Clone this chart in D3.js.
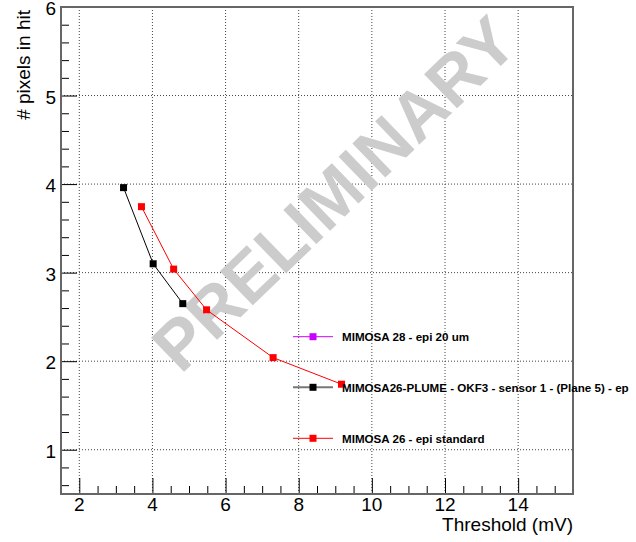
<!DOCTYPE html>
<html>
<head>
<meta charset="utf-8">
<script src="https://cdn.jsdelivr.net/npm/d3@7"></script>
<style>
  body { margin: 0; background: #fff; }
  svg { display: block; font-family: "Liberation Sans", Arial, Helvetica, sans-serif; }
</style>
</head>
<body>
<div id="chart"></div>
<script>
var width = 636,
    height = 542;

// data
var plumeThreshold = [3.21, 4.02, 4.83];
var plumePixels = [3.96, 3.10, 2.65];
var m26Threshold = [3.70, 4.58, 5.48, 7.30, 9.17];
var m26Pixels = [3.745, 3.04, 2.58, 2.04, 1.74];
var m28Threshold = [];
var m28Pixels = [];

var legendLabels = ["MIMOSA 28 - epi 20 um",
                    "MIMOSA26-PLUME - OKF3 - sensor 1 - (Plane 5) - ep",
                    "MIMOSA 26 - epi standard"];
var legendColors = ["#cc00ff", "#000000", "#ff0000"];
var legendLineColors = ["#cc00ff", "#777777", "#ff0000"];

var xMajor = [2, 4, 6, 8, 10, 12, 14];
var yMajor = [1, 2, 3, 4, 5, 6];

var frame = { left: 61, right: 573, top: 7, bottom: 494 };

var svg = d3.select("#chart").append("svg")
  .attr("width", width)
  .attr("height", height);

var x = d3.scaleLinear().domain([1.5, 15.5]).range([frame.left, frame.right]);
var y = d3.scaleLinear().domain([0.5, 6]).range([frame.bottom, frame.top]);

// grid
var grid = svg.append("g").attr("class", "grid");
grid.selectAll("line.gx")
  .data(xMajor)
  .enter().append("line")
  .attr("class", "gx")
  .attr("x1", function(d) { return x(d); })
  .attr("x2", function(d) { return x(d); })
  .attr("y1", frame.top)
  .attr("y2", frame.bottom)
  .attr("stroke", "#444")
  .attr("stroke-width", 1)
  .attr("stroke-dasharray", "1,2");
grid.selectAll("line.gy")
  .data(yMajor)
  .enter().append("line")
  .attr("class", "gy")
  .attr("x1", frame.left)
  .attr("x2", frame.right)
  .attr("y1", function(d) { return y(d); })
  .attr("y2", function(d) { return y(d); })
  .attr("stroke", "#444")
  .attr("stroke-width", 1)
  .attr("stroke-dasharray", "1,2");

// watermark
var wmX = x(8.95),
    wmY = y(3.9);
svg.append("text")
  .attr("transform", "translate(" + wmX + "," + wmY + ")rotate(-44)")
  .attr("text-anchor", "middle")
  .attr("dy", "0.36em")
  .attr("font-size", 69)
  .attr("font-weight", "bold")
  .attr("fill", "#cccccc")
  .text("PRELIMINARY");

// axes (ROOT style: ticks pointing inward)
var xAxis = d3.axisTop(x)
  .tickValues(d3.range(2, 15.51, 0.5))
  .tickSize(8)
  .tickFormat("");
var gx = svg.append("g")
  .attr("transform", "translate(0," + frame.bottom + ")")
  .call(xAxis);
gx.selectAll(".tick line")
  .attr("stroke", "#000")
  .attr("y2", function(d) { return d % 2 === 0 ? -16 : -8; });

var yAxis = d3.axisRight(y)
  .tickValues(d3.range(0.6, 6.01, 0.2).map(function(v) { return Math.round(v * 10) / 10; }))
  .tickSize(8)
  .tickFormat("");
var gy = svg.append("g")
  .attr("transform", "translate(" + frame.left + ",0)")
  .call(yAxis);
gy.selectAll(".tick line")
  .attr("stroke", "#000")
  .attr("x2", function(d) { return Math.abs(d - Math.round(d)) < 1e-6 ? 16 : 8; });
svg.selectAll(".domain").remove();

// tick labels
svg.append("g").selectAll("text")
  .data(xMajor)
  .enter().append("text")
  .attr("x", function(d) { return x(d); })
  .attr("y", frame.bottom + 17)
  .attr("text-anchor", "middle")
  .attr("font-size", 19)
  .text(function(d) { return d; });
svg.append("g").selectAll("text")
  .data(yMajor)
  .enter().append("text")
  .attr("x", frame.left - 5)
  .attr("y", function(d) { return y(d) + 8; })
  .attr("text-anchor", "end")
  .attr("font-size", 19)
  .text(function(d) { return d; });

// frame
svg.append("rect")
  .attr("x", frame.left)
  .attr("y", frame.top)
  .attr("width", frame.right - frame.left)
  .attr("height", frame.bottom - frame.top)
  .attr("fill", "none")
  .attr("stroke", "#666")
  .attr("stroke-width", 2);

// axis titles
svg.append("text")
  .attr("x", frame.right)
  .attr("y", 531)
  .attr("text-anchor", "end")
  .attr("font-size", 19)
  .text("Threshold (mV)");
svg.append("text")
  .attr("transform", "translate(30," + (frame.top + 3) + ")rotate(-90)")
  .attr("text-anchor", "end")
  .attr("font-size", 19)
  .text("# pixels in hit");

// series
var series = [
  { xs: m28Threshold, ys: m28Pixels, color: "#cc00ff" },
  { xs: plumeThreshold, ys: plumePixels, color: "#000000" },
  { xs: m26Threshold, ys: m26Pixels, color: "#ff0000" }
];
var line = d3.line()
  .x(function(d) { return x(d[0]); })
  .y(function(d) { return y(d[1]); });
var ms = 7;
series.forEach(function(s) {
  var pts = s.xs.map(function(v, i) { return [v, s.ys[i]]; });
  if (!pts.length) return;
  svg.append("path")
    .datum(pts)
    .attr("d", line)
    .attr("fill", "none")
    .attr("stroke", s.color)
    .attr("stroke-width", 1);
  svg.append("g").selectAll("rect")
    .data(pts)
    .enter().append("rect")
    .attr("x", function(d) { return x(d[0]) - ms / 2; })
    .attr("y", function(d) { return y(d[1]) - ms / 2; })
    .attr("width", ms)
    .attr("height", ms)
    .attr("fill", s.color);
});

// legend
var legendY = [336.7, 387.3, 438.3];
var leg = svg.append("g").selectAll("g")
  .data(legendLabels)
  .enter().append("g")
  .attr("transform", function(d, i) { return "translate(293," + legendY[i] + ")"; });
leg.append("line")
  .attr("x1", 0).attr("x2", 40)
  .attr("stroke", function(d, i) { return legendLineColors[i]; })
  .attr("stroke-width", function(d, i) { return i === 1 ? 2 : 1; });
leg.append("rect")
  .attr("x", 20 - ms / 2).attr("y", -ms / 2)
  .attr("width", ms).attr("height", ms)
  .attr("fill", function(d, i) { return legendColors[i]; });
leg.append("text")
  .attr("x", 49)
  .attr("y", 4.5)
  .attr("font-size", 11.6)
  .attr("font-weight", "bold")
  .text(function(d) { return d; });
</script>
</body>
</html>
